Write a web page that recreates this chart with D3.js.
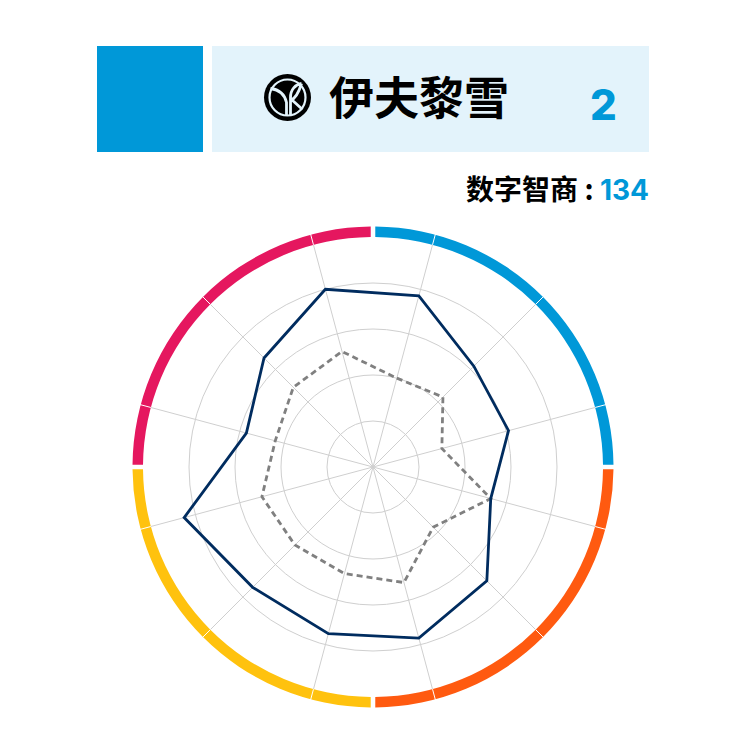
<!DOCTYPE html>
<html>
<head>
<meta charset="utf-8">
<script src="https://cdn.jsdelivr.net/npm/d3@7"></script>
<style>
	html, body { margin: 0; padding: 0; background: #fff; }
	text { font-family: "Noto Sans CJK SC", sans-serif; }
</style>
</head>
<body>
<svg id="chart" width="750" height="750"></svg>
<script>
let brandName = "伊夫黎雪";
let rankValue = "2";
let scoreLabel = "数字智商 : ";
let scoreValue = "134";

// one value per spoke, clockwise from 15 degrees
let brandValues = [77, 62, 61, 53, 70, 77, 75, 74, 85, 57, 67, 80];
let averageValues = [40, 43, 31, 53, 37, 52, 48, 48, 50, 44, 49, 52];
let ringValues = [20, 40, 60, 80];
let groupColors = ["#0098d8", "#ff5a10", "#ffc20e", "#e5175f"];

let cx = 373;
let cy = 467;
let svg = d3.select("#chart");

let r = d3.scaleLinear().domain([0, 100]).range([0, 230]);
let angle = d3.scaleLinear().domain([0, 12]).range([Math.PI / 12, Math.PI * 2 + Math.PI / 12]);

// header
svg.append("rect").attr("x", 97).attr("y", 46).attr("width", 106).attr("height", 106).attr("fill", "#0098d8");
svg.append("rect").attr("x", 212).attr("y", 46).attr("width", 437).attr("height", 106).attr("fill", "#e3f3fb");

let logo = svg.append("g").attr("transform", "translate(287.5,97.5)");
logo.append("circle").attr("r", 23.5).attr("fill", "#000");
logo.append("circle").attr("r", 18).attr("fill", "none").attr("stroke", "#e3f3fb").attr("stroke-width", 2.2);
logo.append("path")
	.attr("d", "M-1,18 V5 C-3,-4 -9,-8 -17,-9 M3,18 V0 C3,-8 8,-13 14,-14 M3,3 C8,1 11,-4 14,-14 M4,2 L15,12")
	.attr("fill", "none")
	.attr("stroke", "#e3f3fb")
	.attr("stroke-width", 2.8);

svg.append("text")
	.attr("x", 329)
	.attr("y", 115)
	.attr("font-size", 45)
	.attr("font-weight", 700)
	.attr("fill", "#000")
	.text(brandName);

svg.append("text")
	.attr("x", 603.5)
	.attr("y", 120)
	.attr("text-anchor", "middle")
	.attr("font-size", 42)
	.attr("font-weight", 800)
	.style("font-family", "Inter")
	.attr("fill", "#0098d8")
	.text(rankValue);

let score = svg.append("text")
	.attr("x", 649)
	.attr("y", 200)
	.attr("text-anchor", "end")
	.attr("font-size", 28)
	.attr("font-weight", 700)
	.attr("fill", "#000");
score.append("tspan").text(scoreLabel);
score.append("tspan").attr("fill", "#0098d8").style("font-family", "Inter").text(scoreValue);

// radar
let plot = svg.append("g").attr("transform", `translate(${cx},${cy})`);

plot.selectAll(".ring")
	.data(ringValues)
	.join("circle")
	.attr("class", "ring")
	.attr("r", d => r(d))
	.attr("fill", "none")
	.attr("stroke", "#cfcfcf")
	.attr("stroke-width", 1);

plot.selectAll(".spoke")
	.data(d3.range(12))
	.join("line")
	.attr("class", "spoke")
	.attr("x2", i => r(100) * Math.sin(angle(i)))
	.attr("y2", i => -r(100) * Math.cos(angle(i)))
	.attr("stroke", "#cfcfcf")
	.attr("stroke-width", 1);

let arc = d3.arc()
	.innerRadius(r(100))
	.outerRadius(r(100) + 10.5)
	.padAngle(0.019)
	.padRadius(240);

plot.selectAll(".group")
	.data(groupColors)
	.join("path")
	.attr("class", "group")
	.attr("fill", d => d)
	.attr("d", (d, i) => arc({startAngle: i * Math.PI / 2, endAngle: (i + 1) * Math.PI / 2}));

plot.selectAll(".tick")
	.data(d3.range(12))
	.join("line")
	.attr("class", "tick")
	.attr("x1", i => r(100) * Math.sin(angle(i)))
	.attr("y1", i => -r(100) * Math.cos(angle(i)))
	.attr("x2", i => (r(100) + 12) * Math.sin(angle(i)))
	.attr("y2", i => -(r(100) + 12) * Math.cos(angle(i)))
	.attr("stroke", "#fff")
	.attr("stroke-width", 1);

let radar = d3.lineRadial()
	.angle((d, i) => angle(i))
	.radius(d => r(d))
	.curve(d3.curveLinearClosed);

plot.append("path")
	.attr("d", radar(averageValues))
	.attr("fill", "none")
	.attr("stroke", "#808080")
	.attr("stroke-width", 2.8)
	.attr("stroke-dasharray", "6 4");

plot.append("path")
	.attr("d", radar(brandValues))
	.attr("fill", "none")
	.attr("stroke", "#002c5f")
	.attr("stroke-width", 2.8);
</script>
</body>
</html>
